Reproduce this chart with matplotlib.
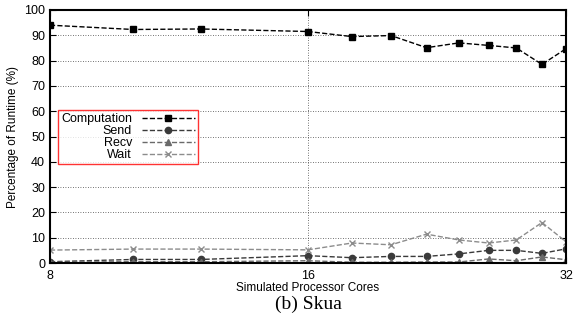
import matplotlib
matplotlib.use("Agg")
from matplotlib import pyplot as plt
from matplotlib.ticker import FixedLocator, NullLocator

cores = [8, 10, 12, 16, 18, 20, 22, 24, 26, 28, 30, 32]
computation = [94.0, 92.3, 92.5, 91.5, 89.5, 89.9, 85.1, 87.0, 86.0, 85.0, 78.5, 84.7]
send = [0.5, 1.4, 1.4, 2.9, 2.1, 2.6, 2.6, 3.6, 5.0, 5.0, 3.8, 5.6]
recv = [0.3, 0.5, 0.5, 0.9, 0.3, 0.3, 0.4, 0.4, 1.6, 0.9, 2.4, 1.3]
wait = [5.1, 5.5, 5.5, 5.2, 7.9, 7.2, 11.4, 9.1, 7.9, 9.1, 16.0, 8.4]
xticks = [8, 16, 32]

plt.rcParams["font.family"] = ["Liberation Sans", "DejaVu Sans"]

fig = plt.figure(figsize=(5.73, 3.21), dpi=100)
ax = fig.add_axes([50 / 573, 1 - 263 / 321, 516 / 573, 253 / 321])

ax.plot(cores, computation, "--", color="black", marker="s", ms=5, lw=1, label="Computation")
ax.plot(cores, send, "--", color="#3a3a3a", marker="o", ms=4.5, lw=1, label="Send")
ax.plot(cores, recv, "--", color="#6a6a6a", marker="^", ms=4.5, lw=1, label="Recv")
ax.plot(cores, wait, "--", color="#8c8c8c", marker="x", ms=5, mew=1, lw=1, label="Wait")

ax.set_xscale("log", base=2)
ax.set_xlim(8, 32)
ax.set_ylim(0, 100)
ax.xaxis.set_major_locator(FixedLocator(xticks))
ax.xaxis.set_minor_locator(NullLocator())
ax.set_xticklabels([str(t) for t in xticks])
ax.set_yticks(range(0, 101, 10))
ax.tick_params(direction="in", top=True, right=True, labelsize=9, length=4, width=0.8)
ax.tick_params(axis="x", pad=5)
ax.grid(True, linestyle=(0, (1, 2)), color="#444444", lw=0.6)
for s in ax.spines.values():
    s.set_linewidth(1.5)

ax.set_ylabel("Percentage of Runtime (%)", fontsize=8.5, labelpad=4)
ax.set_xlabel("Simulated Processor Cores", fontsize=8.5, labelpad=0)

leg = ax.legend(loc="upper left", bbox_to_anchor=(0.0155, 0.605), markerfirst=False,
                fontsize=9, frameon=True, fancybox=False, handlelength=4.2,
                borderpad=0.25, labelspacing=0.0, borderaxespad=0, handletextpad=0.8)
leg.get_frame().set_edgecolor("red")
leg.get_frame().set_linewidth(1)
for t in leg.get_texts():
    t.set_ha("right")

fig.text(308 / 573, 1 - 304 / 321, "(b) Skua", fontsize=14, family="Liberation Serif",
         ha="center", va="center")

fig.savefig("out.png", dpi=100)
